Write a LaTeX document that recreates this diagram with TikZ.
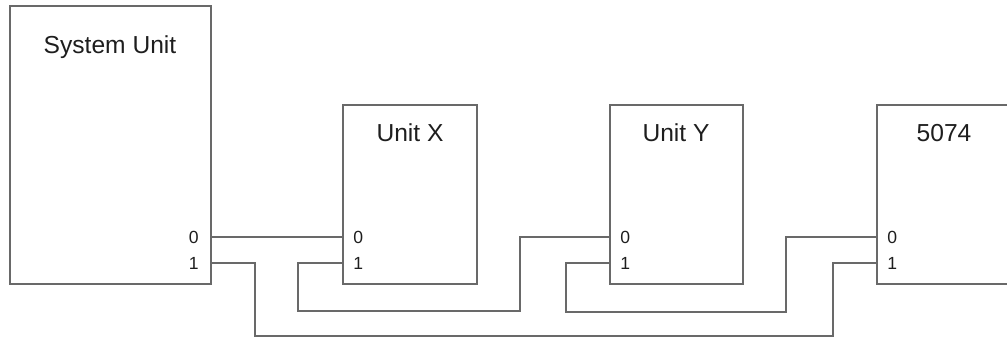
\documentclass[tikz,border=0pt]{standalone}
\usepackage{fontspec}
\setmainfont{Liberation Sans}
\usetikzlibrary{positioning}
\definecolor{wire}{RGB}{105,105,105}
\definecolor{ink}{RGB}{30,30,30}

\begin{document}
\begin{tikzpicture}[x=0.02cm, y=-0.02cm,
    unitbox/.style={draw=wire, line width=1pt, rectangle, outer sep=0pt, inner sep=0pt},
    title/.style={text=ink, font=\fontsize{14}{16}\selectfont, inner sep=0pt},
    port/.style={text=ink, font=\fontsize{10}{12}\selectfont, inner sep=0pt},
    cable/.style={draw=wire, line width=1pt}]
  \clip (0,0) rectangle (1007,339);
  % units
  \node[unitbox, minimum width=4.02cm, minimum height=5.56cm] (sys) at (110.5,145) {};
  \node[unitbox, minimum width=2.68cm, minimum height=3.58cm] (ux) at (410,194.5) {};
  \node[unitbox, minimum width=2.66cm, minimum height=3.58cm] (uy) at (676.5,194.5) {};
  \node[unitbox, minimum width=2.70cm, minimum height=3.58cm] (ctl) at (944.5,194.5) {};
  \node[title] (systxt) at (110,47) {System Unit};
  \node[title] (uxtxt) at (410,133) {Unit X};
  \node[title] (uytxt) at (676,133) {Unit Y};
  \node[title] (ctltxt) at (944,133) {5074};
  % ports
  \coordinate (sys0) at (sys.east |- 0,237);
  \coordinate (sys1) at (sys.east |- 0,263);
  \coordinate (ux0) at (ux.west |- 0,237);
  \coordinate (ux1) at (ux.west |- 0,263);
  \coordinate (uy0) at (uy.west |- 0,237);
  \coordinate (uy1) at (uy.west |- 0,263);
  \coordinate (ctl0) at (ctl.west |- 0,237);
  \coordinate (ctl1) at (ctl.west |- 0,263);
  \node[port, anchor=east] (sys0l) at (199,237) {0};
  \node[port, anchor=east] (sys1l) at (199,263) {1};
  \node[port, anchor=west] (ux0l) at (353,237) {0};
  \node[port, anchor=west] (ux1l) at (353,263) {1};
  \node[port, anchor=west] (uy0l) at (620,237) {0};
  \node[port, anchor=west] (uy1l) at (620,263) {1};
  \node[port, anchor=west] (ctl0l) at (887,237) {0};
  \node[port, anchor=west] (ctl1l) at (887,263) {1};
  % cables
  \draw[cable] (sys0) -- (ux0);
  \draw[cable] (ux1) -| (298,311) -| (520,237) -- (uy0);
  \draw[cable] (uy1) -| (566,312) -| (786,237) -- (ctl0);
  \draw[cable] (sys1) -| (255,336) -| (833,263) -- (ctl1);
\end{tikzpicture}
\end{document}
